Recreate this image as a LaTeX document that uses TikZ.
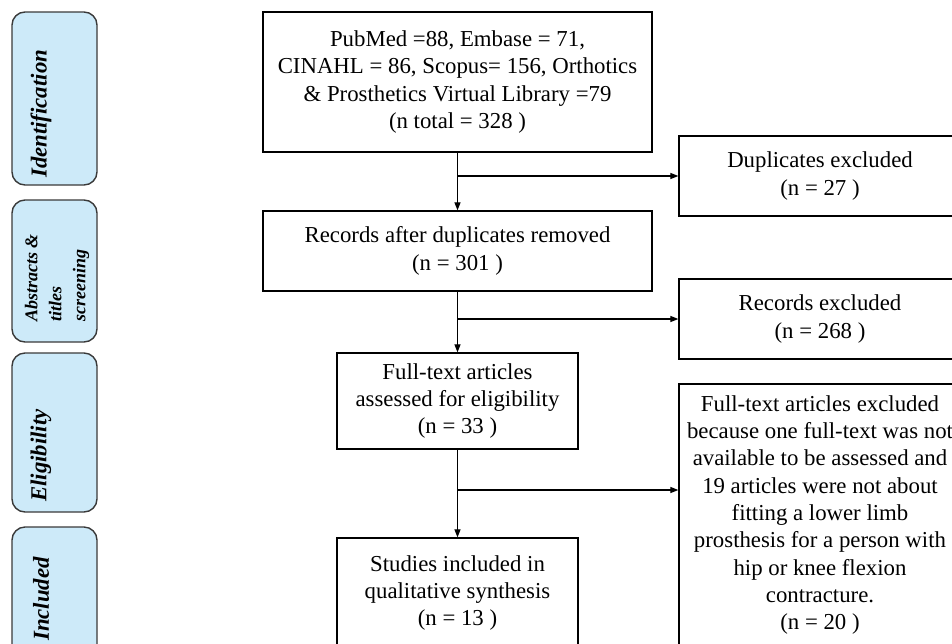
\documentclass[tikz,border=0pt]{standalone}
\usepackage{fontspec}
\setmainfont{Liberation Serif}
\usetikzlibrary{arrows.meta}
\definecolor{sidefill}{HTML}{CDEAF9}
\definecolor{sideline}{HTML}{3A3A3A}
\tikzset{
  boxtext/.style={align=center, inner sep=0pt,
    font=\fontsize{22.8}{27.3}\selectfont},
  mainbox/.style={boxtext, draw=black, line width=1.3pt},
  sidebox/.style={draw=sideline, fill=sidefill, line width=1.4pt, rounded corners=13pt},
  sidetext/.style={rotate=90, anchor=west, inner sep=0pt, align=left,
    font=\fontsize{22.8}{27}\selectfont\bfseries\itshape},
  flow/.style={line width=1.2pt, -{Triangle[length=8pt,width=6pt]}}
}
\begin{document}
\begin{tikzpicture}[x=1pt,y=-1pt]
\useasboundingbox (0,0) rectangle (952,643);
\clip (0,0) rectangle (952,643);
% side phase boxes
\node[sidebox, minimum width=85pt, minimum height=173pt] (s1) at (54.5,98.5) {};
\node[sidebox, minimum width=85pt, minimum height=142pt] (s2) at (54.5,271) {};
\node[sidebox, minimum width=85pt, minimum height=159pt] (s3) at (54.5,432.5) {};
\node[sidebox, minimum width=85pt, minimum height=140pt] (s4) at (54.5,597) {};
\node[sidetext] (t1) at (41,178) {Identification};
\node[sidetext, font=\fontsize{18}{24}\selectfont\bfseries\itshape] (t2) at (57,322) {Abstracts \&\\titles\\screening};
\node[sidetext] (t3) at (41,502) {Eligibility};
\node[sidetext] (t4) at (41,641) {Included};
% main flow boxes
\node[mainbox, minimum width=389pt, minimum height=140pt] (a) at (457.5,82)
  {PubMed =88, Embase = 71,\\CINAHL = 86, Scopus= 156, Orthotics\\\& Prosthetics Virtual Library =79\\(n total = 328 )};
\node[mainbox, minimum width=389pt, minimum height=80pt] (b) at (457.5,251)
  {Records after duplicates removed\\(n = 301 )};
\node[mainbox, minimum width=241pt, minimum height=96pt] (e) at (457.5,401)
  {Full-text articles\\assessed for eligibility\\(n = 33 )};
\node[mainbox, minimum width=241pt, minimum height=142pt] (g) at (457.5,609) {};
\node[boxtext] (gt) at (457.5,593)
  {Studies included in\\qualitative synthesis\\(n = 13 )};
\node[mainbox, minimum width=282pt, minimum height=80pt] (c) at (820,176)
  {Duplicates excluded\\(n = 27 )};
\node[mainbox, minimum width=282pt, minimum height=80pt] (d) at (820,319)
  {Records excluded\\(n = 268 )};
\node[mainbox, minimum width=282pt, minimum height=262pt] (f) at (820,515)
  {Full-text articles excluded\\because one full-text was not\\available to be assessed and\\19 articles were not about\\fitting a lower limb\\prosthesis for a person with\\hip or knee flexion\\contracture.\\(n = 20 )};
% connectors
\draw[flow] (a.south) -- (b.north);
\draw[flow] (a.south |- c.west) -- (c.west);
\draw[flow] (b.south) -- (e.north);
\draw[flow] (b.south |- d.west) -- (d.west);
\draw[flow] (e.south) -- (g.north);
\coordinate (j3) at (457.5,490);
\draw[flow] (j3) -- (j3 -| f.west);
\end{tikzpicture}
\end{document}
